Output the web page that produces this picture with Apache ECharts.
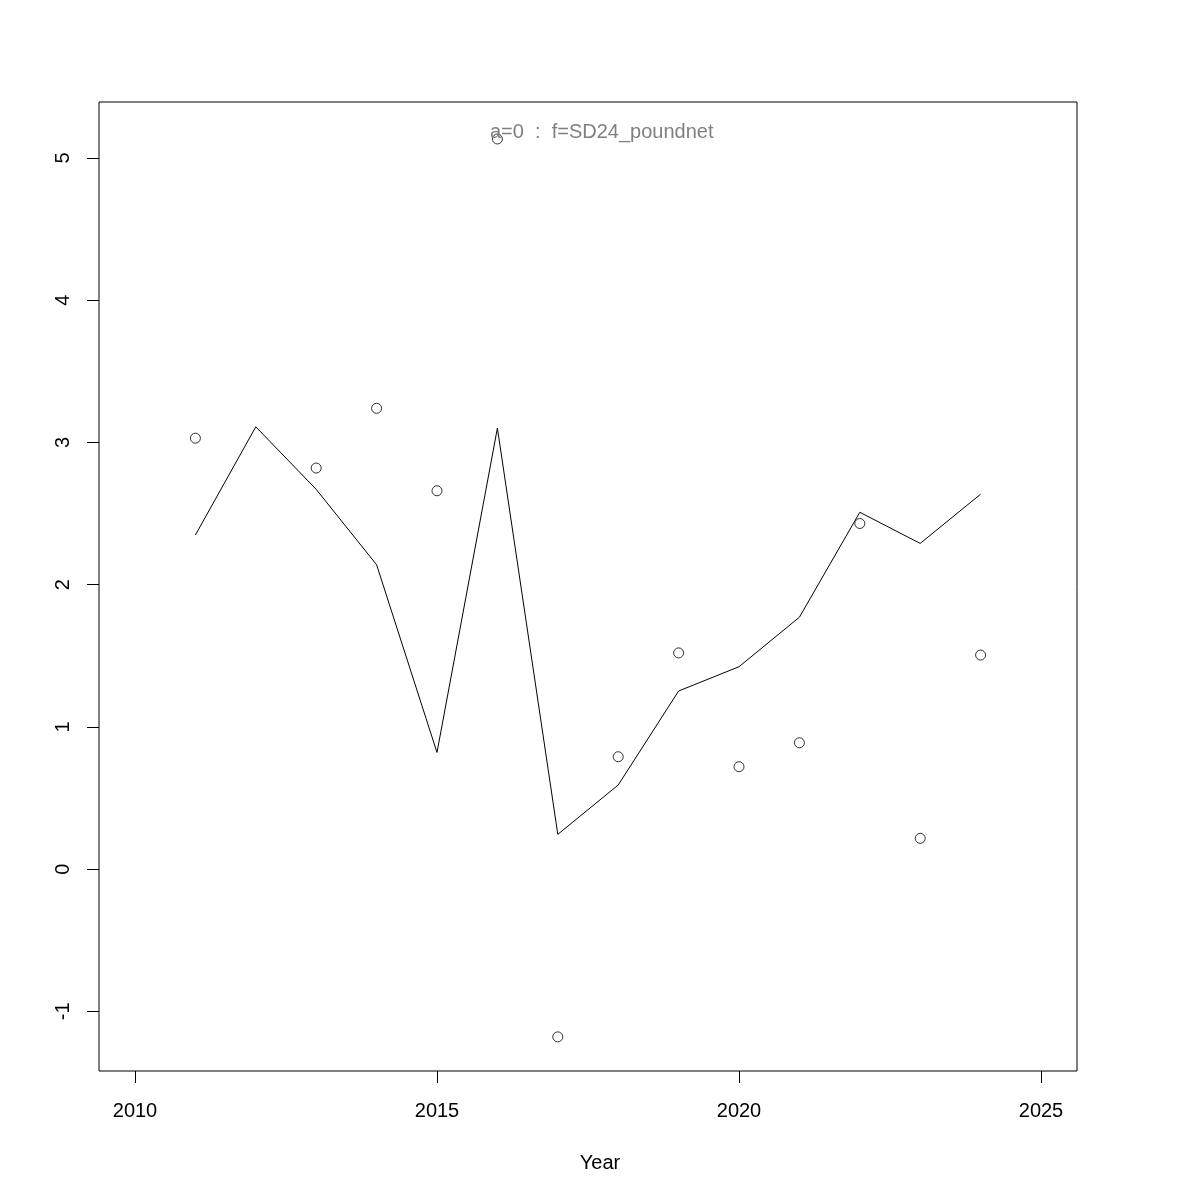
<!DOCTYPE html>
<html>
<head>
<meta charset="utf-8">
<script src="https://cdn.jsdelivr.net/npm/echarts@6/dist/echarts.min.js"></script>
<style>html,body{margin:0;padding:0;background:#fff;}#c{width:1200px;height:1200px;}</style>
</head>
<body>
<div id="c"></div>
<script>
const years = [2011, 2012, 2013, 2014, 2015, 2016, 2017, 2018, 2019, 2020, 2021, 2022, 2023, 2024];
const observed = [3.03, null, 2.82, 3.24, 2.66, 5.134, -1.18, 0.79, 1.52, 0.72, 0.888, 2.43, 0.216, 1.505];
const fitted = [2.349, 3.11, 2.67, 2.14, 0.82, 3.101, 0.244, 0.591, 1.252, 1.423, 1.771, 2.509, 2.29, 2.636];
const xTicks = [2010, 2015, 2020, 2025];
const yTicks = [-1, 0, 1, 2, 3, 4, 5];
const titleText = 'a=0  :  f=SD24_poundnet';
const xName = 'Year';

const FONT = 'Liberation Sans, Arial, Helvetica, sans-serif';
const chart = echarts.init(document.getElementById('c'), null, {renderer: 'canvas'});
chart.setOption({
  animation: false,
  backgroundColor: '#ffffff',
  title: {
    text: titleText,
    left: 485, top: 117,
    textStyle: {color: '#808080', fontSize: 20, fontWeight: 'normal', fontFamily: FONT}
  },
  grid: {left: 99, right: 123, top: 102, bottom: 129, show: true, borderColor: '#000', borderWidth: 1, backgroundColor: 'transparent'},
  xAxis: {
    type: 'value', min: 2009.404, max: 2025.596,
    name: xName, nameLocation: 'middle', nameGap: 82,
    nameTextStyle: {color: '#000', fontSize: 20, fontFamily: FONT, padding: [0, 0, 0, 24]},
    axisLine: {show: false, onZero: false},
    axisTick: {show: true, length: 12, inside: false, customValues: xTicks, lineStyle: {color: '#000', width: 1}},
    axisLabel: {show: true, customValues: xTicks, margin: 30, color: '#000', fontSize: 20, fontFamily: FONT, formatter: v => String(v)},
    splitLine: {show: false}
  },
  yAxis: {
    type: 'value', min: -1.42, max: 5.394,
    axisLine: {show: false, onZero: false},
    axisTick: {show: true, length: 12, inside: false, customValues: yTicks, lineStyle: {color: '#000', width: 1}},
    axisLabel: {show: true, customValues: yTicks, rotate: 90, margin: 26, color: '#000', fontSize: 20, fontFamily: FONT, align: 'center', verticalAlign: 'bottom', formatter: v => String(v)},
    splitLine: {show: false}
  },
  series: [
    {
      type: 'line',
      data: years.map((y, i) => [y, fitted[i]]),
      showSymbol: false, symbol: 'none',
      lineStyle: {color: '#000', width: 1},
      z: 2
    },
    {
      type: 'scatter',
      data: years.map((y, i) => [y, observed[i]]).filter(d => d[1] !== null),
      symbol: 'circle', symbolSize: 10,
      itemStyle: {color: 'rgba(0,0,0,0)', borderColor: '#000', borderWidth: 1},
      z: 3
    }
  ]
});
</script>
</body>
</html>
